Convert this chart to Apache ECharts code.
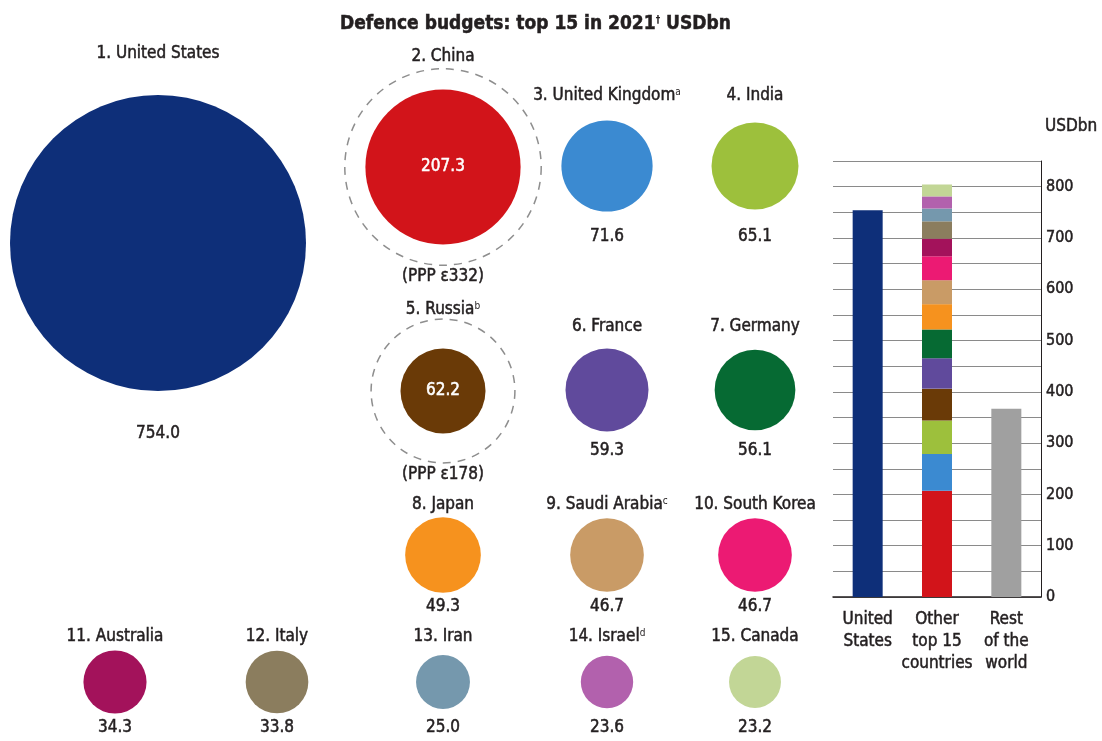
<!DOCTYPE html>
<html>
<head>
<meta charset="utf-8">
<script src="https://cdn.jsdelivr.net/npm/echarts@6/dist/echarts.min.js"></script>
<style>
  html, body { margin: 0; padding: 0; background: #ffffff; }
  #chart { width: 1102px; height: 741px; }
</style>
</head>
<body>
<div id="chart"></div>
<script>
// ---- Data: 2021 defence budgets, USD bn ----
const countries = ['United States', 'China', 'United Kingdom', 'India', 'Russia', 'France', 'Germany',
  'Japan', 'Saudi Arabia', 'South Korea', 'Australia', 'Italy', 'Iran', 'Israel', 'Canada'];
const budgets = [754.0, 207.3, 71.6, 65.1, 62.2, 59.3, 56.1, 49.3, 46.7, 46.7, 34.3, 33.8, 25.0, 23.6, 23.2];
const footnotes = ['', '', 'a', '', 'b', '', '', '', 'c', '', '', '', '', 'd', ''];
const pppCountries = ['China', 'Russia'];
const pppBudgets = [332, 178];
const restOfWorld = 367;
const barCategories = ['United\nStates', 'Other\ntop 15\ncountries', 'Rest\nof the\nworld'];
const axisMax = 850;
const axisStep = 50;
const labelStep = 100;

// ---- Styling ----
const countryColors = ['#0e2f79', '#d2141a', '#3b8ad1', '#9dc03c', '#6a3a07', '#604a9c', '#066a33',
  '#f6921e', '#c99b66', '#ec1a73', '#a3125b', '#8b7d5e', '#7598ad', '#b261ad', '#c2d696'];
const restColor = '#a0a0a0';
const INK = '#231f20';
const FONT = '"DejaVu Sans Condensed", "Liberation Sans Narrow", "Liberation Sans", sans-serif';
// slightly heavier text strokes
const heavy = c => ({ textBorderColor: c, textBorderWidth: 0.5 });

// ---- Layout of the bubble panel (layout units = panel pixels) ----
const bubbleX = [158, 443, 607, 755, 443, 607, 755, 443, 607, 755, 115, 277, 443, 607, 755];
const bubbleY = [243, 167, 166, 166, 391, 390, 390, 555, 555, 555, 682, 682, 682, 682, 682];
const nameY   = [54, 57, 96, 96, 310, 327, 327, 505, 505, 505, 637, 637, 637, 637, 637];
const valueY  = [434, 167, 237, 237, 391, 451, 451, 607, 607, 607, 728, 728, 728, 728, 728];
const pppLabelY = [277, 475];

// bubble area is proportional to budget
const DIAMETER_PER_SQRT = 10.78;
const diameter = v => DIAMETER_PER_SQRT * Math.sqrt(v);

const chart = echarts.init(document.getElementById('chart'), null, { renderer: 'canvas' });

const textRich = {
  n: Object.assign({ fontFamily: FONT, fontSize: 17, color: INK }, heavy(INK)),
  s: { fontFamily: FONT, fontSize: 10, color: INK, verticalAlign: 'top' }
};

// invisible anchor points that only carry text labels
const hiddenPoint = { symbol: 'circle', symbolSize: 1, itemStyle: { color: 'rgba(0,0,0,0)', opacity: 1 } };

const series = [];

// dashed rings: budgets at purchasing-power parity
series.push({
  type: 'scatter', xAxisIndex: 0, yAxisIndex: 0, silent: true, z: 1,
  data: pppCountries.map((c, k) => {
    const i = countries.indexOf(c);
    return { name: c, value: [bubbleX[i], bubbleY[i], pppBudgets[k]] };
  }),
  symbolSize: v => diameter(v[2]),
  itemStyle: { color: 'rgba(0,0,0,0)', opacity: 1, borderColor: '#8e8e8e', borderWidth: 1.5, borderType: [8, 7] }
});

// country bubbles
series.push({
  type: 'scatter', xAxisIndex: 0, yAxisIndex: 0, silent: true, z: 2,
  data: countries.map((c, i) => ({
    name: c, value: [bubbleX[i], bubbleY[i], budgets[i]], itemStyle: { color: countryColors[i], opacity: 1 }
  })),
  symbolSize: v => diameter(v[2])
});

// country names with rank and footnote mark
series.push(Object.assign({
  type: 'scatter', xAxisIndex: 0, yAxisIndex: 0, silent: true, z: 3,
  data: countries.map((c, i) => ({ name: c, value: [bubbleX[i], nameY[i]] })),
  label: {
    show: true, position: 'inside', rich: textRich, opacity: 1,
    formatter: p => {
      const i = p.dataIndex;
      return '{n|' + (i + 1) + '. ' + countries[i] + '}' + (footnotes[i] ? '{s|' + footnotes[i] + '}' : '');
    }
  }
}, hiddenPoint));

// budget values
series.push(Object.assign({
  type: 'scatter', xAxisIndex: 0, yAxisIndex: 0, silent: true, z: 3,
  data: countries.map((c, i) => {
    const col = pppCountries.includes(c) ? '#ffffff' : INK;
    return { name: c, value: [bubbleX[i], valueY[i]], label: Object.assign({ color: col }, heavy(col)) };
  }),
  label: {
    show: true, position: 'inside', fontFamily: FONT, fontSize: 17, opacity: 1,
    formatter: p => budgets[p.dataIndex].toFixed(1)
  }
}, hiddenPoint));

// PPP estimate notes
series.push(Object.assign({
  type: 'scatter', xAxisIndex: 0, yAxisIndex: 0, silent: true, z: 3,
  data: pppCountries.map((c, k) => {
    const i = countries.indexOf(c);
    return { name: c, value: [bubbleX[i], pppLabelY[k]] };
  }),
  label: Object.assign({
    show: true, position: 'inside', fontFamily: FONT, fontSize: 17, color: INK, opacity: 1,
    formatter: p => '(PPP \u03b5' + pppBudgets[p.dataIndex] + ')'
  }, heavy(INK))
}, hiddenPoint));

// stacked comparison bars
series.push({
  type: 'bar', xAxisIndex: 1, yAxisIndex: 1, stack: 'total', barWidth: 30, silent: true,
  data: [{ value: budgets[0], itemStyle: { color: countryColors[0] } }, '-',
         { value: restOfWorld, itemStyle: { color: restColor } }]
});
for (let i = 1; i < countries.length; i++) {
  series.push({
    type: 'bar', xAxisIndex: 1, yAxisIndex: 1, stack: 'total', barWidth: 30, silent: true,
    name: countries[i],
    data: ['-', budgets[i], '-'],
    itemStyle: { color: countryColors[i] }
  });
}

chart.setOption({
  animation: false,
  backgroundColor: '#ffffff',
  title: {
    left: 335, top: 10,
    text: '{t|Defence budgets: top 15 in 2021}{s|\u2020}{t| USDbn}',
    textStyle: {
      rich: {
        t: Object.assign({ fontFamily: FONT, fontSize: 19, fontWeight: 'bold', color: INK }, heavy(INK)),
        s: { fontFamily: FONT, fontSize: 10, fontWeight: 'bold', color: INK, verticalAlign: 'top' }
      }
    }
  },
  grid: [
    { left: 0, top: 0, width: 1102, height: 741 },
    { left: 833, top: 161, width: 208, height: 436 }
  ],
  xAxis: [
    { gridIndex: 0, type: 'value', min: 0, max: 1102, show: false },
    {
      gridIndex: 1, type: 'category', data: barCategories,
      axisLine: { show: true, lineStyle: { color: INK, width: 1.5 } },
      axisTick: { show: false },
      axisLabel: Object.assign({ interval: 0, margin: 12, fontFamily: FONT, fontSize: 17, lineHeight: 22, color: INK }, heavy(INK))
    }
  ],
  yAxis: [
    { gridIndex: 0, type: 'value', min: 0, max: 741, inverse: true, show: false },
    {
      gridIndex: 1, type: 'value', position: 'right', min: 0, max: axisMax, interval: axisStep,
      axisLine: { show: true, lineStyle: { color: INK, width: 1 } },
      axisTick: { show: false },
      splitLine: { show: true, lineStyle: { color: '#8a8a8a', width: 1 } },
      axisLabel: Object.assign({
        margin: 5, fontFamily: FONT, fontSize: 16, color: INK,
        formatter: v => (v % labelStep === 0 ? String(v) : '')
      }, heavy(INK)),
      name: 'USDbn', nameLocation: 'end', nameGap: 34,
      nameTextStyle: Object.assign({ align: 'left', verticalAlign: 'middle', fontFamily: FONT, fontSize: 17, color: INK, padding: [0, 0, 0, 4] }, heavy(INK))
    }
  ],
  series: series
});
</script>
</body>
</html>
